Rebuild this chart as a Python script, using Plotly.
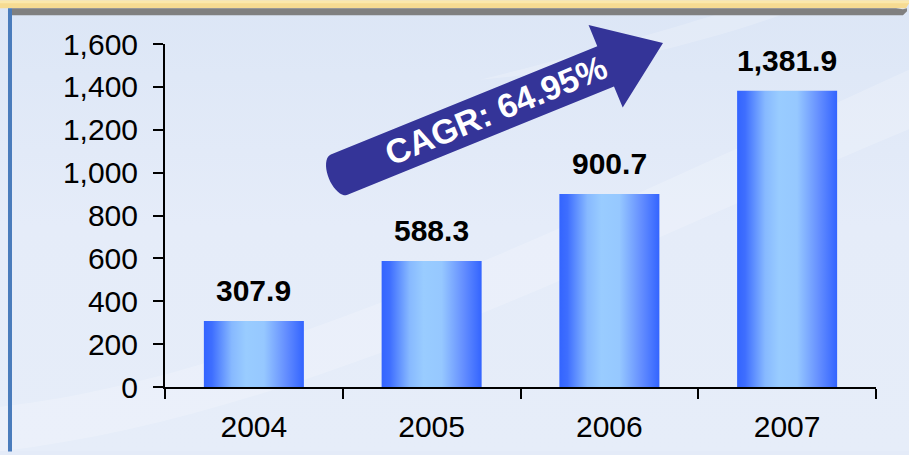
import base64
import math

import plotly.graph_objects as go

years = ["2004", "2005", "2006", "2007"]
revenue = [307.9, 588.3, 900.7, 1381.9]
value_labels = ["307.9", "588.3", "900.7", "1,381.9"]
cagr_label = "CAGR: 64.95%"

# page geometry (pixels)
W, H = 909, 455
M_L, M_R, M_T, M_B = 165, 33, 44, 65
PLOT_W = W - M_L - M_R
PLOT_H = H - M_T - M_B
FONT = "Liberation Sans, Arial, sans-serif"
BAR_WIDTH = 0.5626
ARROW_COLOR = "rgb(52,52,152)"


def to_paper(px, py):
    return (px - M_L) / PLOT_W, (H - M_B - py) / PLOT_H


def path_from_pixels(points):
    coords = [to_paper(x, y) for x, y in points]
    return "M " + " L ".join(f"{x:.5f},{y:.5f}" for x, y in coords) + " Z"


def arrow_points():
    ang = math.radians(22.3)
    ux, uy = math.cos(ang), -math.sin(ang)
    nx, ny = math.sin(ang), math.cos(ang)
    tip = (663, 43)
    head_len, head_half, shaft_half, length, cap = 62, 45, 22, 350, 11
    bx, by = tip[0] - head_len * ux, tip[1] - head_len * uy
    tx, ty = tip[0] - length * ux, tip[1] - length * uy
    pts = [
        tip,
        (bx - head_half * nx, by - head_half * ny),
        (bx - shaft_half * nx, by - shaft_half * ny),
        (tx - shaft_half * nx, ty - shaft_half * ny),
    ]
    for k in range(1, 20):
        a = math.pi * k / 20
        c, s = math.cos(a), math.sin(a)
        pts.append((tx - c * shaft_half * nx - s * cap * ux,
                    ty - c * shaft_half * ny - s * cap * uy))
    pts += [
        (tx + shaft_half * nx, ty + shaft_half * ny),
        (bx + shaft_half * nx, by + shaft_half * ny),
        (bx + head_half * nx, by + head_half * ny),
    ]
    return pts


def pixel_shape(points, color, layer="below"):
    return dict(type="path", path=path_from_pixels(points), xref="paper", yref="paper",
                fillcolor=color, line=dict(width=0), layer=layer)


background_svg = f"""<svg xmlns='http://www.w3.org/2000/svg' width='{W}' height='{H}'>
<defs><linearGradient id='g' x1='0' y1='0' x2='0' y2='1'>
<stop offset='0' stop-color='#dce6f6'/><stop offset='0.5' stop-color='#e5ecf9'/>
<stop offset='1' stop-color='#e6edf9'/></linearGradient></defs>
<rect width='{W}' height='{H}' fill='url(#g)'/>
<path d='M0,410 C260,380 560,230 909,70 L909,130 C600,260 300,420 0,455 Z' fill='white' fill-opacity='0.2'/>
<path d='M480,80 C600,50 700,20 760,0 L820,0 C720,40 600,70 480,80 Z' fill='white' fill-opacity='0.2'/>
</svg>"""
background_uri = "data:image/svg+xml;base64," + base64.b64encode(background_svg.encode()).decode()

bar_scale = [
    [0.0, "rgb(51,100,255)"],
    [0.08, "rgb(62,110,255)"],
    [0.28, "rgb(135,185,255)"],
    [0.42, "rgb(153,204,255)"],
    [0.6, "rgb(150,200,255)"],
    [0.82, "rgb(100,142,255)"],
    [1.0, "rgb(51,100,255)"],
]

fig = go.Figure()
for i, value in enumerate(revenue):
    x0, x1 = i - BAR_WIDTH / 2, i + BAR_WIDTH / 2
    fig.add_trace(go.Scatter(
        x=[x0, x0, x1, x1, x0],
        y=[0, value, value, 0, 0],
        mode="lines",
        line=dict(width=0),
        fill="toself",
        fillgradient=dict(type="horizontal", colorscale=bar_scale),
        hoverinfo="skip",
        showlegend=False,
    ))

for i, (value, label) in enumerate(zip(revenue, value_labels)):
    fig.add_annotation(
        x=i, y=value, text=f"<b>{label}</b>", showarrow=False,
        yanchor="bottom", yshift=12,
        font=dict(family=FONT, size=30, color="black"),
    )

ax, ay = to_paper(496, 111)
fig.add_annotation(
    x=ax, y=ay, xref="paper", yref="paper", text=f"<b>{cagr_label}</b>",
    xanchor="center", yanchor="middle",
    showarrow=False, textangle=-22.3,
    font=dict(family=FONT, size=34, color="white"),
)

shapes = [
    pixel_shape([(0, 0), (909, 0), (909, 3), (906, 8), (0, 8)], "#f6db92"),
    pixel_shape([(0, 0), (909, 0), (909, 3), (0, 3)], "#fbe8ab"),
    pixel_shape([(12, 8), (896, 8), (903, 9), (907, 8), (907, 11), (903, 15), (12, 15)], "#808080"),
    pixel_shape([(8, 8), (12, 8), (12, 455), (8, 455)], "#4a7cbc"),
    pixel_shape(arrow_points(), ARROW_COLOR, layer="above"),
]

bx0, by0 = to_paper(0, 0)
fig.update_layout(
    width=W, height=H,
    margin=dict(l=M_L, r=M_R, t=M_T, b=M_B, pad=0),
    paper_bgcolor="#e4ebf8",
    plot_bgcolor="rgba(0,0,0,0)",
    font=dict(family=FONT, size=30, color="black"),
    showlegend=False,
    shapes=shapes,
    images=[dict(source=background_uri, xref="paper", yref="paper", x=bx0, y=by0,
                 sizex=W / PLOT_W, sizey=H / PLOT_H, sizing="stretch",
                 xanchor="left", yanchor="top", layer="below")],
    xaxis=dict(
        range=[-0.5, 3.5], tickvals=list(range(len(years))), ticktext=years,
        ticks="", showgrid=False, zeroline=False, showline=True,
        linecolor="black", linewidth=2, ticklabelstandoff=12,
        minor=dict(tickvals=[-0.5, 0.5, 1.5, 2.5, 3.5], ticks="outside",
                   ticklen=10, tickwidth=2, tickcolor="black", showgrid=False),
    ),
    yaxis=dict(
        range=[0, 1600], dtick=200, tickformat=",", ticks="outside",
        ticklen=10, tickwidth=2, tickcolor="black", showgrid=False,
        zeroline=False, showline=True, linecolor="black", linewidth=2,
        ticklabelstandoff=9,
    ),
)

# the page body has a default 8px margin; drop it so the figure fills the window
fig.write_html(
    "out.html",
    config={"displayModeBar": False},
    post_script="document.body.style.margin='0';",
)
